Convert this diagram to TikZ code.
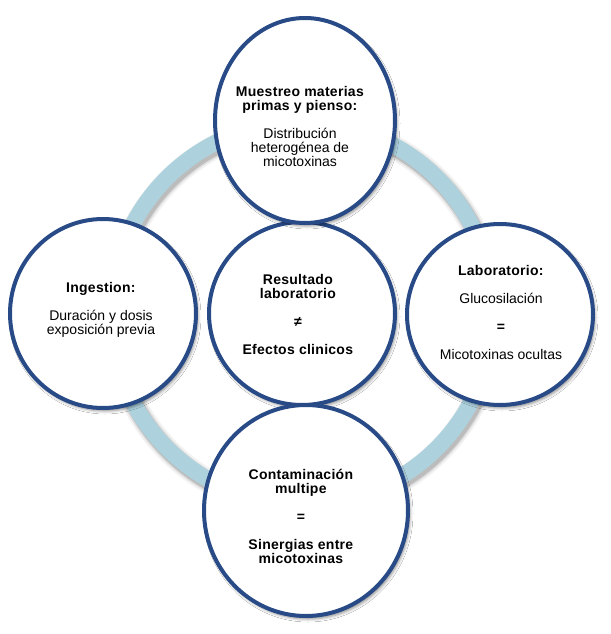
\documentclass[tikz,border=0pt]{standalone}
\usepackage{fontspec}
\setmainfont{Liberation Sans}[BoldFeatures={LetterSpace=2}]
\usetikzlibrary{shapes.geometric,shadows.blur}
\definecolor{circblue}{RGB}{40,74,134}
\definecolor{ringblue}{RGB}{173,210,222}
\begin{document}
\begin{tikzpicture}[x=1pt,y=-1pt,
  bubble/.style={ellipse, draw=circblue, line width=4pt, fill=white, inner sep=0pt,
    blur shadow={shadow xshift=2pt, shadow yshift=-3pt, shadow blur radius=3pt, shadow opacity=45}},
  txt/.style={align=center, inner sep=0pt, font=\fontsize{14}{14}\selectfont},
  ringshadow/.style={black, line width=#1}]
\useasboundingbox[fill=white] (0,0) rectangle (610,634);
\coordinate (c) at (302,313);
\coordinate (cs) at (304,316);
\draw[ringshadow=24pt, opacity=0.05] (cs) circle (191pt);
\draw[ringshadow=20pt, opacity=0.09] (cs) circle (191pt);
\draw[ringshadow=17pt, opacity=0.14] (cs) circle (191pt);
\draw[ringblue, line width=16pt] (c) circle (191pt);
\node[bubble, minimum width=186pt, minimum height=183pt] (mid) at (302,313.5) {};
\node[bubble, minimum width=180pt, minimum height=205pt] (top) at (305,120.5) {};
\node[bubble, minimum width=186pt, minimum height=189pt] (left) at (103,313.5) {};
\node[bubble, minimum width=186pt, minimum height=181pt] (right) at (500,314.5) {};
\node[bubble, minimum width=204pt, minimum height=211pt] (bottom) at (306,510.5) {};
\node[txt] (toptxt) at (300,126) {\textbf{Muestreo materias}\\\textbf{primas y pienso:}\\[14pt]Distribución\\heterogénea de\\micotoxinas};
\node[txt] (lefttxt) at (101,310) {\textbf{Ingestion:}\\[14pt]Duración y dosis\\exposición previa};
\node[txt] (midtxt) at (298,314) {\textbf{Resultado}\\\textbf{laboratorio}\\[14pt]\textbf{≠}\\[14pt]\textbf{Efectos clinicos}};
\node[txt] (righttxt) at (501,312) {\textbf{Laboratorio:}\\[14pt]Glucosilación\\[14pt]\textbf{=}\\[14pt]Micotoxinas ocultas};
\node[txt] (bottxt) at (301,516) {\textbf{Contaminación}\\\textbf{multipe}\\[14pt]\textbf{=}\\[14pt]\textbf{Sinergias entre}\\\textbf{micotoxinas}};
\end{tikzpicture}
\end{document}
